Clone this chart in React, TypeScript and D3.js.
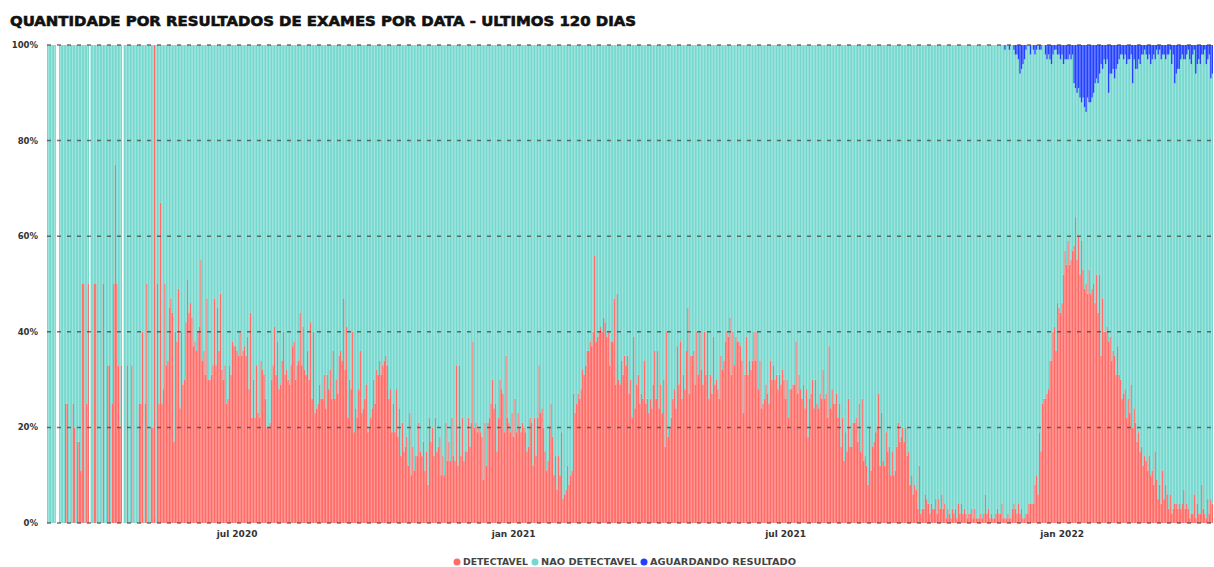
import React, { useRef, useEffect } from 'react';
import * as d3 from 'd3';

// first day of the series, one value per day after it
const startDate = '2020-02-26';

// % DETECTAVEL per day (null = no exams that day)
const detectavel: (number | null)[] = [
  // fev - mai 2020
  0, 0, 0, 0, 0, 0, null, null, 0, 0, 0, 0, 25, 25, 0, 0, 0, 25, 20, 0, 17, 17, 11, 50, 50,
  0, 25, 50, null, 0, 0, 50, 50, 0, 0, 0, 0, 50, 0, 0, 33, 33, 0, 25, 50, 75, 50, 33, 20, 33,
  null, 0, 0, 33, 0, 0, 33, 0, 0, 0, 0, 25, 25, 40, 0, 25, 50, 0, 0, 20, 20, 100, 0, 50, 25,
  // mai - jul 2020
  67, 25, 28, 50, 33, 34, 45, 47, 44, 17, 40, 38, 49, 24, 40, 29, 30, 42, 51, 44, 46, 43,
  37, 38, 36, 40, 41, 55, 34, 36, 31, 47, 30, 30, 31, 33, 47, 33, 45, 36, 48, 32, 30, 33,
  25, 26, 33, 31, 38, 37, 37, 36, 35, 40, 35, 36, 37, 35, 39, 28, 44, 22, 30, 22, 33, 23,
  // jul - set 2020
  22, 34, 32, 31, 26, 20, 20, 21, 30, 33, 41, 31, 38, 28, 29, 34, 40, 31, 32, 30, 29, 33,
  37, 38, 30, 33, 34, 44, 33, 41, 32, 31, 36, 30, 42, 26, 40, 23, 24, 25, 29, 26, 26, 31,
  24, 31, 28, 32, 26, 36, 26, 30, 27, 35, 36, 34, 47, 32, 41, 22, 30, 28, 40, 19, 24, 22,
  // set - nov 2020
  28, 36, 23, 24, 26, 29, 19, 20, 22, 24, 30, 25, 32, 31, 34, 31, 33, 34, 35, 33, 26, 28,
  19, 25, 19, 28, 18, 24, 14, 21, 15, 16, 18, 12, 23, 10, 16, 11, 14, 14, 21, 15, 14, 17,
  11, 15, 8, 22, 17, 20, 14, 22, 15, 16, 18, 10, 14, 10, 21, 13, 17, 13, 22, 14, 13, 33,
  // nov 2020 - fev 2021
  12, 33, 14, 22, 13, 15, 15, 22, 16, 21, 38, 20, 21, 19, 20, 19, 18, 9, 21, 12, 21, 22,
  25, 30, 24, 25, 15, 22, 30, 28, 27, 19, 35, 22, 21, 19, 23, 18, 26, 19, 23, 20, 19, 21,
  20, 19, 15, 16, 22, 21, 12, 22, 14, 22, 33, 23, 24, 20, 15, 11, 13, 20, 25, 18, 10, 14,
  // fev - abr 2021
  7, 14, 10, 19, 5, 6, 7, 12, 8, 10, 11, 27, 23, 25, 27, 26, 28, 32, 31, 33, 36, 36,
  38, 37, 40, 56, 38, 39, 40, 41, 40, 43, 42, 39, 40, 33, 38, 38, 47, 29, 48, 30, 29, 34,
  31, 35, 33, 35, 27, 30, 22, 39, 24, 29, 31, 25, 27, 26, 34, 25, 26, 23, 26, 24, 29, 36,
  // abr - jun 2021
  26, 36, 24, 29, 23, 30, 16, 40, 18, 20, 22, 26, 28, 24, 37, 29, 38, 26, 31, 28, 36, 45,
  27, 35, 35, 36, 29, 40, 31, 40, 32, 29, 40, 31, 40, 26, 31, 27, 39, 29, 30, 28, 26, 35,
  32, 34, 38, 40, 39, 43, 31, 40, 33, 39, 38, 38, 37, 34, 23, 31, 39, 31, 34, 32, 34, 40,
  // jun - ago 2021
  34, 40, 28, 34, 24, 25, 26, 29, 27, 25, 34, 30, 33, 30, 31, 28, 31, 29, 32, 30, 26, 30,
  22, 28, 28, 29, 29, 38, 27, 31, 28, 26, 29, 24, 28, 18, 26, 27, 30, 24, 30, 25, 24, 27,
  26, 32, 26, 27, 22, 37, 24, 28, 25, 25, 27, 22, 25, 16, 22, 13, 19, 15, 26, 16, 16, 21,
  // ago - out 2021
  21, 22, 17, 25, 15, 26, 13, 14, 12, 8, 20, 11, 16, 17, 19, 20, 27, 12, 23, 13, 12, 19,
  15, 16, 10, 15, 10, 11, 16, 21, 17, 18, 20, 17, 20, 14, 15, 8, 10, 6, 8, 7, 3, 12,
  2, 3, 3, 6, 5, 4, 2, 4, 3, 3, 5, 2, 5, 3, 6, 3, 4, 1, 3, 2, 1, 3,
  // out - dez 2021
  2, 3, 1, 4, 2, 4, 2, 3, 2, 1, 2, 2, 3, 1, 3, 1, 1, 1, 2, 1, 2, 6,
  2, 3, 1, 2, 1, 1, 2, 3, 2, 2, 4, 1, 1, 1, 2, 1, 1, 3, 4, 3, 2, 4,
  2, 3, 1, 1, 2, 2, 4, 4, 4, 4, 8, 10, 6, 19, 15, 25, 26, 26, 27, 28, 34, 34,
  // dez 2021 - abr 2022
  40, 41, 36, 46, 45, 44, 46, 52, 57, 54, 59, 54, 55, 57, 58, 64, 55, 60, 52, 59, 53,
  49, 50, 48, 53, 48, 49, 50, 46, 52, 44, 52, 35, 47, 40, 40, 41, 38, 39, 34, 36, 35,
  31, 37, 31, 30, 26, 27, 28, 22, 26, 23, 29, 20, 24, 21, 17, 19, 15, 16, 12, 14, 13,
  11, 14, 10, 11, 8, 15, 9, 5, 8, 4, 11, 5, 8, 6, 3, 6, 2, 3, 4, 4, 3, 4, 3, 4, 7,
  3, 4, 3, 1, 2, 2, 6, 1, 4, 2, 2, 8, 3, 2, 1, 5, 2, 5, 4,
];

// % AGUARDANDO RESULTADO per day, starting at aguardandoStart
const aguardandoStart = '2021-11-23';
const aguardando: number[] = [
  0, 1, 0, 0, 1, 0, 0, 1, 2, 2, 3, 6, 5, 4, 3, 1, 0, 0, 2, 0, 1, 2, 1, 0, 1, 1, 0, 0, 2, 3, 2, 3, 4,
  2, 1, 1, 2, 2, 3, 2, 4, 3, 3, 3, 2, 3, 2, 8, 9, 10, 9, 11, 12, 11, 13, 14, 11, 12, 12, 11, 10,
  8, 7, 8, 6, 4, 5, 3, 4, 3, 10, 6, 6, 5, 7, 5, 4, 3, 2, 2, 3, 2, 4, 3, 3, 2, 8, 3, 5,
  5, 3, 4, 2, 2, 1, 2, 3, 2, 4, 3, 2, 3, 1, 2, 1, 3, 2, 2, 3, 2, 2, 1, 4, 2, 8, 6, 5,
  5, 3, 2, 3, 3, 2, 1, 3, 4, 2, 1, 6, 4, 3, 4, 2, 2, 1, 4, 3, 2, 7, 6,
];

const seriesKeys = ['detectavel', 'nao', 'aguardando'];
const seriesNames = ['DETECTAVEL', 'NAO DETECTAVEL', 'AGUARDANDO RESULTADO'];
const seriesColors = ['#FF6B66', '#74D8CE', '#2140FF'];

const xTickDates = ['2020-07-01', '2021-01-01', '2021-07-01', '2022-01-01'];
const xTickLabels = ['jul 2020', 'jan 2021', 'jul 2021', 'jan 2022'];
const yTicks = [0, 20, 40, 60, 80, 100];

const title = 'QUANTIDADE POR RESULTADOS DE EXAMES POR DATA - ULTIMOS 120 DIAS';

const App = () => {
  const chartRef = useRef<SVGSVGElement | null>(null);

  useEffect(() => {
    const width = 1214;
    const height = 567;
    const margin = { top: 45, right: 1, bottom: 44, left: 47 };
    const parse = d3.timeParse('%Y-%m-%d');
    const start = parse(startDate) as Date;
    const aguStart = d3.timeDay.count(start, parse(aguardandoStart) as Date);

    const days = detectavel.map((_, i) => i);
    const rows = days
      .filter(i => detectavel[i] !== null)
      .map(i => {
        const det = detectavel[i] as number;
        const agu = i >= aguStart ? aguardando[i - aguStart] ?? 0 : 0;
        return { i, detectavel: det, aguardando: agu, nao: 100 - det - agu };
      });

    const svg = d3.select(chartRef.current);
    svg.selectAll('*').remove();

    const x = d3.scaleBand<number>()
      .domain(days)
      .range([margin.left, width - margin.right])
      .paddingInner(0.08);
    const y = d3.scaleLinear()
      .domain([0, 100])
      .range([height - margin.bottom, margin.top]);

    // title
    svg.append('text')
      .attr('x', 10)
      .attr('y', 26)
      .attr('textLength', 626)
      .attr('lengthAdjust', 'spacingAndGlyphs')
      .style('font', 'bold 14px "DejaVu Sans", sans-serif')
      .attr('fill', '#111')
      .attr('stroke', '#111')
      .attr('stroke-width', 0.6)
      .text(title);

    // stacked bars
    const stack = d3.stack<any>().keys(seriesKeys);
    const layers = stack(rows);

    svg.append('g')
      .selectAll('g')
      .data(layers)
      .enter().append('g')
      .attr('fill', (_, k) => seriesColors[k])
      .selectAll('rect')
      .data(d => d.filter(p => p[1] > p[0]))
      .enter().append('rect')
      .attr('x', d => x(d.data.i) as number)
      .attr('width', x.bandwidth())
      .attr('y', d => y(d[1]))
      .attr('height', d => y(d[0]) - y(d[1]));

    // dashed gridlines on top of bars
    svg.append('g')
      .selectAll('line')
      .data(yTicks)
      .enter().append('line')
      .attr('x1', margin.left)
      .attr('x2', width - margin.right)
      .attr('y1', d => y(d))
      .attr('y2', d => y(d))
      .attr('stroke', '#444')
      .attr('stroke-opacity', 0.75)
      .attr('stroke-width', 1.5)
      .attr('stroke-dasharray', '4 6');

    // y labels
    svg.append('g')
      .selectAll('text')
      .data(yTicks)
      .enter().append('text')
      .attr('x', 38)
      .attr('y', d => y(d) + 3)
      .attr('text-anchor', 'end')
      .style('font', 'bold 8.5px "DejaVu Sans", sans-serif')
      .attr('fill', '#333')
      .text(d => `${d}%`);

    // x labels
    svg.append('g')
      .selectAll('text')
      .data(xTickDates)
      .enter().append('text')
      .attr('x', d => (x(d3.timeDay.count(start, parse(d) as Date)) as number) + x.bandwidth() / 2)
      .attr('y', 537)
      .attr('text-anchor', 'middle')
      .style('font', '600 9px "DejaVu Sans", sans-serif')
      .attr('fill', '#333')
      .text((_, k) => xTickLabels[k]);

    // legend
    const legendX = [457, 535, 644];
    const legendW = [65, 96, 146];
    const legend = svg.append('g')
      .selectAll('g')
      .data(seriesNames)
      .enter().append('g')
      .attr('transform', (_, k) => `translate(${legendX[k]}, 562)`);
    legend.append('circle')
      .attr('r', 3.5)
      .attr('fill', (_, k) => seriesColors[k]);
    legend.append('text')
      .attr('x', 6)
      .attr('y', 3)
      .attr('textLength', (_, k) => legendW[k])
      .attr('lengthAdjust', 'spacingAndGlyphs')
      .style('font', 'bold 8.5px "DejaVu Sans", sans-serif')
      .attr('fill', '#444')
      .text(d => d);
  }, []);

  return (
    <svg
      ref={chartRef}
      width={1214}
      height={567}
      style={{ position: 'absolute', left: 0, top: 0, background: '#fff' }}
    />
  );
};

export default App;
